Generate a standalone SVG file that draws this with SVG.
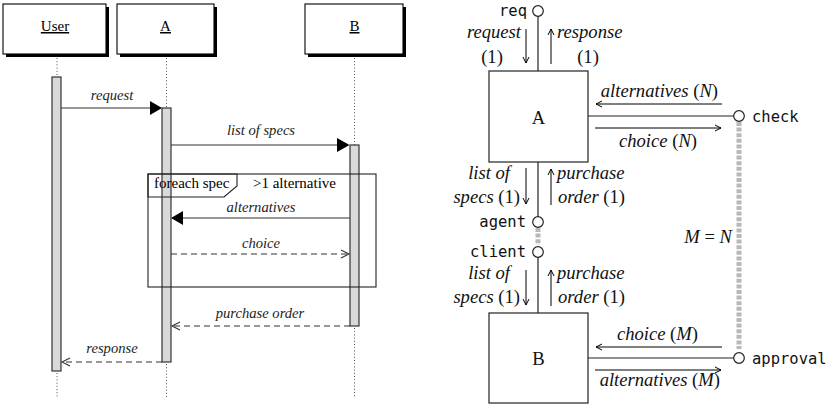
<svg xmlns="http://www.w3.org/2000/svg" width="828" height="405" viewBox="0 0 828 405">
  <style>
    .box { fill: #fff; stroke: #000; stroke-width: 1.1; }
    .shadow { fill: #000; }
    .life { stroke: #555; stroke-width: 1; stroke-dasharray: 1 2.2; fill: none; }
    .bar { fill: #d9d9d9; stroke: #333; stroke-width: 1.2; }
    .msg { stroke: #333; stroke-width: 1.2; fill: none; }
    .reply { stroke: #333; stroke-width: 1.2; fill: none; stroke-dasharray: 6 4; }
    .head { fill: #000; }
    .open { fill: none; stroke: #333; stroke-width: 1.1; }
    .lbl { font-family: "Liberation Serif", "Times New Roman", serif; font-size: 14.6px; font-style: italic; fill: #222; text-anchor: middle; }
    .name { font-family: "Liberation Serif", "Times New Roman", serif; font-size: 15px; fill: #000; text-anchor: middle; text-decoration: underline; }
    .frame { fill: none; stroke: #222; stroke-width: 1.1; }
    .ftxt { font-family: "Liberation Serif", "Times New Roman", serif; font-size: 15px; fill: #000; }
    .comp { fill: #fff; stroke: #333; stroke-width: 1.3; }
    .wire { stroke: #222; stroke-width: 1.2; fill: none; }
    .port { fill: #fff; stroke: #222; stroke-width: 1.2; }
    .bind { stroke: #b8b8b8; stroke-width: 5; stroke-dasharray: 4 1.6; fill: none; }
    .flow { stroke: #000; stroke-width: 1; fill: none; marker-end: url(#tip); }
    .rl { font-family: "Liberation Serif", "Times New Roman", serif; font-size: 18.6px; fill: #111; }
    .it { font-style: italic; }
    .mono { font-family: "DejaVu Sans Mono", "Liberation Mono", monospace; font-size: 15.5px; fill: #111; }
  </style>
  <defs>
    <marker id="tip" viewBox="0 0 8 8" refX="7" refY="4" markerWidth="8" markerHeight="8" markerUnits="userSpaceOnUse" orient="auto">
      <path d="M1,1 L7,4 L1,7" fill="none" stroke="#000" stroke-width="1"/>
    </marker>
  </defs>

  <!-- Sequence diagram: participants -->
  <g id="user">
    <rect class="shadow" x="6" y="7" width="103" height="50"/>
    <rect class="box" x="3" y="4" width="103" height="50"/>
    <text class="name" x="55" y="31">User</text>
    <line class="life" x1="57" y1="58" x2="57" y2="77"/>
    <rect class="bar" x="52" y="77" width="9" height="294"/>
    <line class="life" x1="57" y1="373" x2="57" y2="398"/>
  </g>
  <g id="a">
    <rect class="shadow" x="120" y="7" width="97" height="50"/>
    <rect class="box" x="117" y="4" width="97" height="50"/>
    <text class="name" x="165.5" y="31">A</text>
    <line class="life" x1="166.5" y1="58" x2="166.5" y2="108"/>
    <rect class="bar" x="162" y="108" width="9" height="254"/>
    <line class="life" x1="166.5" y1="364" x2="166.5" y2="398"/>
  </g>
  <g id="b">
    <rect class="shadow" x="308" y="7" width="98" height="50"/>
    <rect class="box" x="305" y="4" width="98" height="50"/>
    <text class="name" x="354.5" y="31">B</text>
    <line class="life" x1="354.5" y1="58" x2="354.5" y2="145"/>
    <rect class="bar" x="350" y="145" width="9" height="181"/>
    <line class="life" x1="354.5" y1="328" x2="354.5" y2="398"/>
  </g>

  <!-- Loop fragment -->
  <g id="foreach">
    <rect class="frame" x="148" y="174" width="228" height="113"/>
    <path class="frame" d="M148,174 H237 V186 L224,197 H148 Z" fill="#fff"/>
    <text class="ftxt" x="154" y="188">foreach spec</text>
    <text class="ftxt" x="253" y="188">&gt;1 alternative</text>
  </g>

  <!-- Sequence diagram: messages -->
  <g id="messages">
    <line class="msg" x1="61" y1="108" x2="151" y2="108"/>
    <path class="head" d="M150,101 L162,108 L150,115 Z"/>
    <text class="lbl" x="112" y="100">request</text>

    <line class="msg" x1="171" y1="145" x2="338" y2="145"/>
    <path class="head" d="M337,138 L349.5,145 L337,152 Z"/>
    <text class="lbl" x="261" y="135">list of specs</text>

    <line class="msg" x1="350" y1="218" x2="182" y2="218"/>
    <path class="head" d="M183,211 L171,218 L183,225 Z"/>
    <text class="lbl" x="261" y="212">alternatives</text>

    <line class="reply" x1="171" y1="254" x2="349" y2="254"/>
    <path class="open" d="M341,250 L349,254 L341,258"/>
    <text class="lbl" x="261" y="248">choice</text>

    <line class="reply" x1="350" y1="326" x2="172" y2="326"/>
    <path class="open" d="M180,322 L172,326 L180,330"/>
    <text class="lbl" x="260" y="318">purchase order</text>

    <line class="reply" x1="162" y1="362" x2="62" y2="362"/>
    <path class="open" d="M70,358 L62,362 L70,366"/>
    <text class="lbl" x="112" y="353">response</text>
  </g>

  <!-- Component diagram -->
  <g id="comp-a">
    <rect class="comp" x="489" y="71" width="99" height="91"/>
    <text class="rl" x="538.5" y="124" text-anchor="middle">A</text>
  </g>
  <g id="comp-b">
    <rect class="comp" x="489" y="313" width="99" height="90"/>
    <text class="rl" x="538.5" y="365" text-anchor="middle">B</text>
  </g>

  <g id="port-req">
    <circle class="port" cx="538" cy="11" r="5.3"/>
    <text class="mono" x="527" y="16" text-anchor="end">req</text>
  </g>
  <g id="port-check">
    <circle class="port" cx="739" cy="116" r="5.3"/>
    <text class="mono" x="752" y="122">check</text>
  </g>
  <g id="port-agent">
    <circle class="port" cx="538" cy="222" r="5.3"/>
    <text class="mono" x="526" y="227" text-anchor="end">agent</text>
  </g>
  <g id="port-client">
    <circle class="port" cx="538" cy="252" r="5.3"/>
    <text class="mono" x="526" y="257" text-anchor="end">client</text>
  </g>
  <g id="port-approval">
    <circle class="port" cx="739" cy="358" r="5.3"/>
    <text class="mono" x="752" y="364">approval</text>
  </g>

  <g id="connectors">
    <!-- wires from components to their ports -->
    <line class="wire" x1="538" y1="16.3" x2="538" y2="71"/>
    <line class="wire" x1="588" y1="116" x2="733.7" y2="116"/>
    <line class="wire" x1="538" y1="162" x2="538" y2="216.7"/>
    <line class="wire" x1="538" y1="257.3" x2="538" y2="313"/>
    <line class="wire" x1="588" y1="358" x2="733.7" y2="358"/>
    <!-- port bindings -->
    <line class="bind" x1="538" y1="228" x2="538" y2="245"/>
    <line class="bind" x1="739" y1="122" x2="739" y2="349"/>

    <!-- message flows -->
    <line class="flow" x1="526" y1="29" x2="526" y2="63"/>
    <line class="flow" x1="551" y1="64" x2="551" y2="29"/>
    <line class="flow" x1="722" y1="104" x2="596" y2="104"/>
    <line class="flow" x1="595" y1="128" x2="721" y2="128"/>
    <line class="flow" x1="526" y1="168" x2="526" y2="204"/>
    <line class="flow" x1="551" y1="205" x2="551" y2="169"/>
    <line class="flow" x1="526" y1="270" x2="526" y2="305"/>
    <line class="flow" x1="551" y1="306" x2="551" y2="270"/>
    <line class="flow" x1="722" y1="347" x2="596" y2="347"/>
    <line class="flow" x1="595" y1="370" x2="721" y2="370"/>
  </g>

  <!-- flow labels -->
  <g id="flow-labels">
    <text class="rl it" x="521" y="38" text-anchor="end">request</text>
    <text class="rl" x="492" y="63" text-anchor="middle">(1)</text>
    <text class="rl it" x="557" y="38">response</text>
    <text class="rl" x="588" y="63" text-anchor="middle">(1)</text>

    <text class="rl" x="718" y="97" text-anchor="end"><tspan class="it">alternatives</tspan> (<tspan class="it">N</tspan>)</text>
    <text class="rl" x="697" y="147" text-anchor="end"><tspan class="it">choice</tspan> (<tspan class="it">N</tspan>)</text>

    <text class="rl it" x="510" y="179" text-anchor="end">list of</text>
    <text class="rl" x="520" y="203" text-anchor="end"><tspan class="it">specs</tspan> (1)</text>
    <text class="rl it" x="557" y="179">purchase</text>
    <text class="rl" x="558" y="203"><tspan class="it">order</tspan> (1)</text>

    <text class="rl" x="732" y="243" text-anchor="end"><tspan class="it">M</tspan> = <tspan class="it">N</tspan></text>

    <text class="rl it" x="510" y="279" text-anchor="end">list of</text>
    <text class="rl" x="520" y="303" text-anchor="end"><tspan class="it">specs</tspan> (1)</text>
    <text class="rl it" x="557" y="279">purchase</text>
    <text class="rl" x="558" y="303"><tspan class="it">order</tspan> (1)</text>

    <text class="rl" x="698" y="340" text-anchor="end"><tspan class="it">choice</tspan> (<tspan class="it">M</tspan>)</text>
    <text class="rl" x="720" y="386" text-anchor="end"><tspan class="it">alternatives</tspan> (<tspan class="it">M</tspan>)</text>
  </g>
</svg>
